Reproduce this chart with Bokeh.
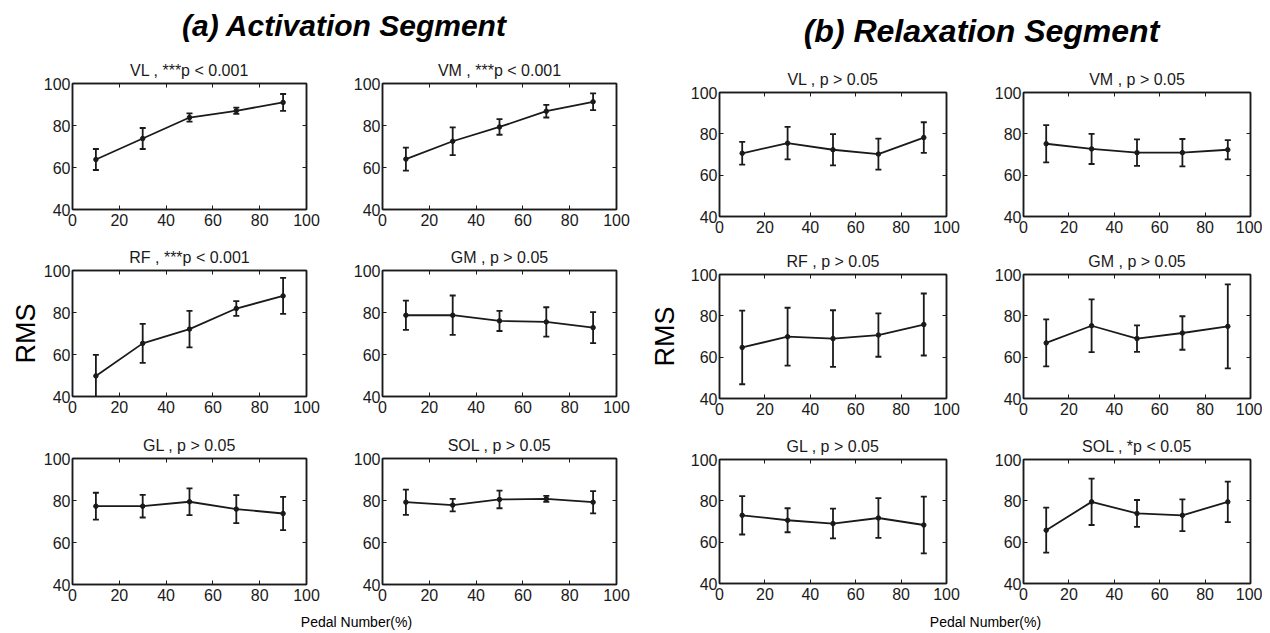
from bokeh.plotting import figure
from bokeh.layouts import row, column
from bokeh.models import (Range1d, LinearAxis, FixedTicker, Whisker, TeeHead,
                          ColumnDataSource, Label)
from bokeh.embed import file_html
from bokeh.resources import INLINE

# ---------------- data ----------------
pedal = [10, 30, 50, 70, 90]
x_ticks = [0, 20, 40, 60, 80, 100]
y_ticks = [40, 60, 80, 100]

act_titles = ["VL , ***p < 0.001", "VM , ***p < 0.001", "RF , ***p < 0.001",
              "GM , p > 0.05", "GL , p > 0.05", "SOL , p > 0.05"]
rel_titles = ["VL , p > 0.05", "VM , p > 0.05", "RF , p > 0.05",
              "GM , p > 0.05", "GL , p > 0.05", "SOL , *p < 0.05"]

act_VL_mean = [63.8, 73.8, 83.8, 87.0, 91.0]
act_VL_sd = [5.0, 5.0, 2.0, 1.5, 4.0]
act_VM_mean = [64.0, 72.5, 79.3, 86.8, 91.3]
act_VM_sd = [5.5, 6.6, 3.7, 3.0, 4.0]
act_RF_mean = [49.8, 65.3, 72.1, 81.9, 87.9]
act_RF_sd = [10.0, 9.3, 8.7, 3.5, 8.6]
act_GM_mean = [78.7, 78.7, 76.0, 75.5, 72.8]
act_GM_sd = [7.0, 9.4, 4.8, 7.0, 7.4]
act_GL_mean = [77.3, 77.3, 79.4, 75.9, 73.8]
act_GL_sd = [6.4, 5.4, 6.4, 6.7, 7.9]
act_SOL_mean = [79.2, 77.8, 80.5, 80.8, 79.2]
act_SOL_sd = [6.0, 3.0, 4.2, 1.4, 5.3]

rel_VL_mean = [70.6, 75.5, 72.3, 70.2, 78.2]
rel_VL_sd = [5.5, 7.9, 7.6, 7.5, 7.4]
rel_VM_mean = [75.2, 72.7, 70.9, 70.9, 72.3]
rel_VM_sd = [9.0, 7.3, 6.4, 6.6, 4.7]
rel_RF_mean = [64.7, 69.9, 69.0, 70.7, 75.8]
rel_RF_sd = [17.8, 14.0, 13.7, 10.5, 15.0]
rel_GM_mean = [66.9, 75.2, 69.0, 71.7, 74.9]
rel_GM_sd = [11.4, 12.8, 6.4, 8.1, 20.3]
rel_GL_mean = [73.0, 70.6, 69.0, 71.7, 68.3]
rel_GL_sd = [9.3, 5.8, 7.2, 9.6, 13.7]
rel_SOL_mean = [65.8, 79.5, 73.9, 73.0, 79.5]
rel_SOL_sd = [10.9, 11.2, 6.5, 7.7, 9.8]

act_means = [act_VL_mean, act_VM_mean, act_RF_mean, act_GM_mean, act_GL_mean, act_SOL_mean]
act_sds = [act_VL_sd, act_VM_sd, act_RF_sd, act_GM_sd, act_GL_sd, act_SOL_sd]
rel_means = [rel_VL_mean, rel_VM_mean, rel_RF_mean, rel_GM_mean, rel_GL_mean, rel_SOL_mean]
rel_sds = [rel_VL_sd, rel_VM_sd, rel_RF_sd, rel_GM_sd, rel_GL_sd, rel_SOL_sd]

y_label = "RMS"
x_label = "Pedal Number(%)"

FONT = "Liberation Sans"
INK = "#1a1a1a"


def blank_axis(ticks):
    return LinearAxis(ticker=FixedTicker(ticks=ticks),
                      major_label_overrides={t: "" for t in ticks},
                      major_label_text_font_size="1px",
                      major_label_standoff=0, major_tick_in=4, major_tick_out=0,
                      minor_tick_in=0, minor_tick_out=0, axis_line_color=INK,
                      axis_line_width=1.5, major_tick_line_color=INK)


def panel(title, mean, sd, fw, fh, bl, br, bt, bb, ylab=None, ylab_standoff=0):
    src = ColumnDataSource(dict(x=pedal, y=mean,
                                lower=[m - s for m, s in zip(mean, sd)],
                                upper=[m + s for m, s in zip(mean, sd)]))
    p = figure(frame_width=fw, frame_height=fh, min_border_left=bl, min_border_right=br,
               min_border_top=bt, min_border_bottom=bb, x_range=Range1d(0, 100),
               y_range=Range1d(40, 100), output_backend="svg", toolbar_location=None,
               title=title)
    p.grid.visible = False
    p.outline_line_color = INK
    p.outline_line_width = 1.5
    p.title.align = "center"
    p.title.text_font = FONT
    p.title.text_font_size = "16px"
    p.title.text_font_style = "normal"
    p.title.text_color = INK
    p.title.standoff = 10
    for ax, ticks, so in ((p.xaxis[0], x_ticks, 4), (p.yaxis[0], y_ticks, 2)):
        ax.ticker = FixedTicker(ticks=ticks)
        ax.major_tick_in = 4
        ax.major_tick_out = 0
        ax.minor_tick_in = 0
        ax.minor_tick_out = 0
        ax.axis_line_color = INK
        ax.axis_line_width = 1.5
        ax.major_tick_line_color = INK
        ax.major_label_text_font = FONT
        ax.major_label_text_font_size = "16px"
        ax.major_label_text_color = INK
        ax.major_label_standoff = so
    if ylab:
        p.yaxis[0].axis_label = ylab
        p.yaxis[0].axis_label_text_font = FONT
        p.yaxis[0].axis_label_text_font_size = "27px"
        p.yaxis[0].axis_label_text_font_style = "normal"
        p.yaxis[0].axis_label_text_color = "black"
        p.yaxis[0].axis_label_standoff = ylab_standoff
    p.add_layout(blank_axis(x_ticks), "above")
    p.add_layout(blank_axis(y_ticks), "right")
    p.line("x", "y", source=src, line_color=INK, line_width=1.8)
    w = Whisker(source=src, base="x", upper="upper", lower="lower",
                line_color=INK, line_width=1.8,
                upper_head=TeeHead(size=6, line_color=INK, line_width=1.8),
                lower_head=TeeHead(size=6, line_color=INK, line_width=1.8))
    p.add_layout(w)
    p.scatter("x", "y", source=src, size=4.5, color=INK)
    return p


def text_box(w, h, txt, x, y, size, style="normal"):
    p = figure(width=w, height=h, min_border=0, x_range=Range1d(0, w), y_range=Range1d(0, h),
               x_axis_type=None, y_axis_type=None, output_backend="svg",
               toolbar_location=None)
    p.grid.visible = False
    p.outline_line_color = None
    p.add_layout(Label(x=x, y=y, text=txt, text_align="center", text_baseline="middle",
                       text_font=FONT, text_font_size=size, text_font_style=style,
                       text_color="black"))
    return p


# ---------------- left group (activation) ----------------
LFW, LFH = 234, 126
l_rows_b = [(30, 31), (30, 32), (30, 24)]
l_rows = []
for r in range(3):
    bt, bb = l_rows_b[r]
    i0, i1 = 2 * r, 2 * r + 1
    pa = panel(act_titles[i0], act_means[i0], act_sds[i0], LFW, LFH, 72, 40, bt, bb,
               ylab=y_label if r == 1 else None, ylab_standoff=0)
    pb = panel(act_titles[i1], act_means[i1], act_sds[i1], LFW, LFH, 36, 28, bt, bb)
    l_rows.append(row(pa, pb, spacing=0))
header_L = text_box(644, 53, "(a) Activation Segment", 344, 28, "30px", "bold italic")
footer_L = text_box(644, 22, x_label, 356, 9, "14px")
left = column(header_L, *l_rows, footer_L, spacing=0)

# ---------------- right group (relaxation) ----------------
RFW, RFH = 227, 124
r_rows_b = [(30, 28), (30, 31), (30, 24)]
r_rows = []
for r in range(3):
    bt, bb = r_rows_b[r]
    i0, i1 = 2 * r, 2 * r + 1
    pc = panel(rel_titles[i0], rel_means[i0], rel_sds[i0], RFW, RFH, 75, 41, bt, bb,
               ylab=y_label if r == 1 else None, ylab_standoff=8)
    pd = panel(rel_titles[i1], rel_means[i1], rel_sds[i1], RFW, RFH, 36, 12, bt, bb)
    r_rows.append(row(pc, pd, spacing=0))
header_R = text_box(618, 62, "(b) Relaxation Segment", 337, 32, "32px", "bold italic")
footer_R = text_box(618, 23, x_label, 341, 9, "14px")
right = column(header_R, *r_rows, footer_R, spacing=0)

layout = row(left, right, spacing=0)

open("out.html", "w").write(file_html(layout, INLINE))
